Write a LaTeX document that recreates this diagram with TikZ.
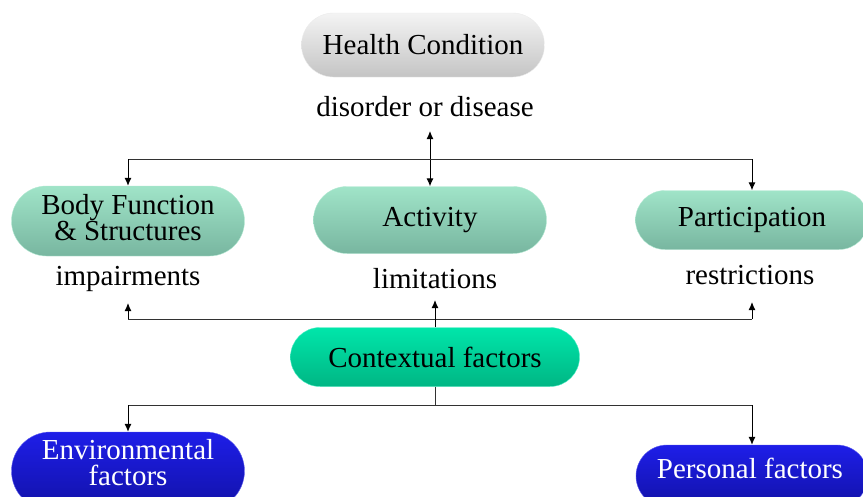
\documentclass[tikz,border=0pt]{standalone}
\usepackage{fontspec}
\setmainfont{Liberation Serif}
\usetikzlibrary{shapes.misc,arrows.meta}
\definecolor{greytop}{RGB}{244,244,244}
\definecolor{greybot}{RGB}{196,196,196}
\definecolor{mintop}{RGB}{160,228,200}
\definecolor{minbot}{RGB}{120,182,160}
\definecolor{ctxtop}{RGB}{0,230,170}
\definecolor{ctxbot}{RGB}{0,182,132}
\definecolor{bluetop}{RGB}{30,30,232}
\definecolor{bluebot}{RGB}{18,18,168}
\definecolor{linegrey}{RGB}{50,50,50}
\tikzset{
  pill/.style={rounded rectangle, inner sep=2pt, align=center},
  greypill/.style={pill, top color=greytop, bottom color=greybot, draw=white!92!black},
  mintpill/.style={pill, top color=mintop, bottom color=minbot, draw=mintop!80!white},
  ctxpill/.style={pill, top color=ctxtop, bottom color=ctxbot, draw=ctxtop!70!white},
  bluepill/.style={pill, top color=bluetop, bottom color=bluebot, draw=bluetop!70!white, text=white},
  whitetext/.style={inner sep=0pt, align=center, text=white},
  label/.style={inner sep=0pt},
  wire/.style={draw=linegrey, line width=1pt},
  arr/.style={draw=black, line width=1pt, -{Latex[length=8pt,width=7pt]}},
  darr/.style={draw=black, line width=1pt, {Latex[length=8pt,width=7pt]}-{Latex[length=8pt,width=7pt]}}
}
\begin{document}
\begin{tikzpicture}[x=1pt,y=-1pt,font=\fontsize{29}{26}\selectfont]
\useasboundingbox (0,0) rectangle (863,496);

% top: health condition
\node[greypill, minimum width=247pt, minimum height=64pt] (hc) at (423,45) {Health Condition};
\node[label] (dis) at (425,107) {disorder or disease};

% middle row
\node[mintpill, minimum width=237pt, minimum height=70pt] (bf) at (128,221) {};
\node[label, align=center] (bftext) at (128,218) {Body Function\\\& Structures};
\node[mintpill, minimum width=237pt, minimum height=67pt] (act) at (430,220) {Activity};
\node[mintpill, minimum width=237pt, minimum height=59pt] (part) at (752,220) {Participation};
\node[label] (imp) at (128,279) {impairments};
\node[label] (lim) at (435,279) {limitations};
\node[label] (res) at (750,275) {restrictions};

% contextual factors
\node[ctxpill, minimum width=293pt, minimum height=59pt] (ctx) at (435,357) {Contextual factors};

% bottom row (both pills run past the lower edge)
\node[bluepill, minimum width=237pt, minimum height=78pt] (env) at (128,471) {};
\node[whitetext] (envtext) at (128,463) {Environmental\\factors};
\node[bluepill, minimum width=236pt, minimum height=62pt] (pers) at (752,476) {};
\node[whitetext] (perstext) at (750,468) {Personal factors};

% bus coordinates
\coordinate (topbus) at (430,159);
\coordinate (distip) at (430,131);
\coordinate (midbus) at (435,319);
\coordinate (lowbus) at (435,405);

% health condition to the three components
\draw[darr] (act.north) -- (distip);
\draw[wire] (bf.north |- topbus) -- (part.north |- topbus);
\draw[arr] (bf.north |- topbus) -- (bf.north);
\draw[arr] (part.north |- topbus) -- (part.north);

% contextual factors up to the three outcomes
\draw[wire] (imp.south |- midbus) -- (752,319);
\draw[arr] (ctx.north) -- (lim.south |- 0,300);
\draw[arr] (imp.south |- midbus) -- (128,303);
\draw[arr] (752,319) -- (752,302);

% contextual factors down to the two kinds
\draw[wire] (ctx.south) -- (lowbus);
\draw[wire] (env.north |- lowbus) -- (pers.north |- lowbus);
\draw[arr] (env.north |- lowbus) -- (env.north);
\draw[arr] (pers.north |- lowbus) -- (pers.north);
\end{tikzpicture}
\end{document}
